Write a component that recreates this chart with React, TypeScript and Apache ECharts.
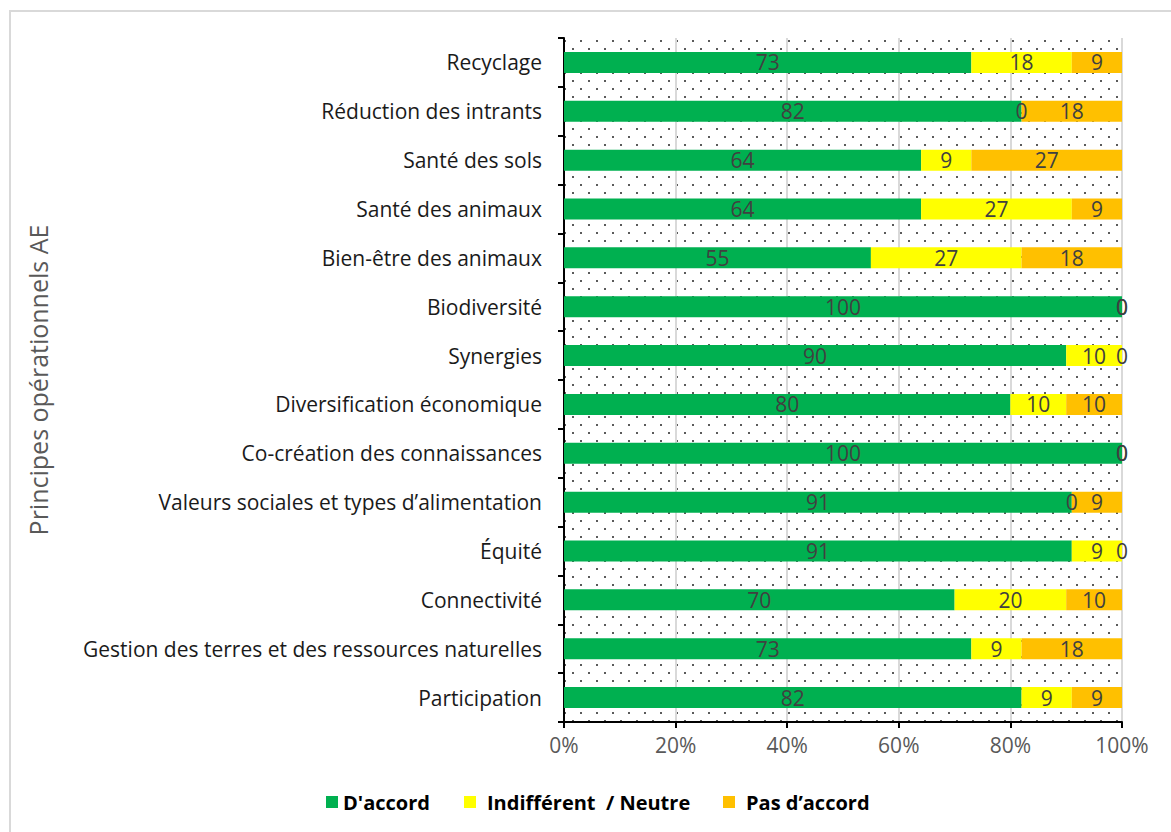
import React, { useEffect, useRef } from "react";
import * as echarts from "echarts";

const categories = [
  "Recyclage",
  "Réduction des intrants",
  "Santé des sols",
  "Santé des animaux",
  "Bien-être des animaux",
  "Biodiversité",
  "Synergies",
  "Diversification économique",
  "Co-création des connaissances",
  "Valeurs sociales et types d’alimentation",
  "Équité",
  "Connectivité",
  "Gestion des terres et des ressources naturelles",
  "Participation",
];

const accord = [73, 82, 64, 64, 55, 100, 90, 80, 100, 91, 91, 70, 73, 82];
const neutre = [18, 0, 9, 27, 27, 0, 10, 10, 0, 0, 9, 20, 9, 9];
const pasAccord = [9, 18, 27, 9, 18, 0, 0, 10, 0, 9, 0, 10, 18, 9];

const seriesNames = ["D'accord", "Indifférent  / Neutre", "Pas d’accord"];
const seriesColors = ["#00B050", "#FFFF00", "#FFC000"];
const xTicks = [0, 20, 40, 60, 80, 100];

const FONT = "'Open Sans', 'Noto Sans', sans-serif";

// small tile of staggered dots used to fill the plot background
function makeDotTile(): HTMLCanvasElement {
  const c = document.createElement("canvas");
  c.width = 16;
  c.height = 16;
  const ctx = c.getContext("2d")!;
  ctx.fillStyle = "#ffffff";
  ctx.fillRect(0, 0, 16, 16);
  ctx.fillStyle = "#5a5a5a";
  ctx.fillRect(4, 8, 2, 2);
  ctx.fillRect(12, 0, 2, 2);
  return c;
}

export default function App() {
  const ref = useRef<HTMLDivElement>(null);

  useEffect(() => {
    if (!ref.current) return;
    const chart = echarts.init(ref.current, undefined, { renderer: "svg" });
    const tile = makeDotTile();

    const values = [accord, neutre, pasAccord];
    const series = values.map((data, i) => ({
      name: seriesNames[i],
      type: "bar" as const,
      stack: "total",
      data,
      barWidth: "43%",
      itemStyle: { color: seriesColors[i] },
      label: {
        show: true,
        position: "inside" as const,
        color: "#404040",
        fontSize: 21,
        fontFamily: FONT,
        formatter: (p: any) => String(p.value),
      },
    }));

    // one legend block per series so each entry sits at its own spot
    const legendLefts = [326, 464, 723];
    const legendGaps = [5, 11, 11];
    const legend = seriesNames.map((name, i) => ({
      data: [name],
      left: legendLefts[i],
      top: 792,
      icon: "rect",
      itemWidth: 12,
      itemHeight: 12,
      itemGap: 6,
      padding: 0,
      textStyle: {
        fontFamily: FONT,
        fontWeight: "bold" as const,
        fontSize: 20,
        color: "#000000",
        padding: [0, 0, 0, legendGaps[i] - 5],
      },
    }));

    chart.setOption({
      animation: false,
      backgroundColor: "transparent",
      grid: {
        left: 564,
        right: 49,
        top: 38,
        bottom: 110,
        show: true,
        borderWidth: 0,
        backgroundColor: {
          image: tile,
          repeat: "repeat",
          imageWidth: 16,
          imageHeight: 16,
        } as any,
      },
      legend,
      xAxis: {
        type: "value",
        min: 0,
        max: 100,
        interval: 20,
        axisLine: { show: true, lineStyle: { color: "#000000", width: 2 } },
        axisTick: { show: true, length: 6, lineStyle: { color: "#000000", width: 2 } },
        splitLine: { show: true, lineStyle: { color: "#d9d9d9", width: 2 } },
        axisLabel: {
          color: "#595959",
          fontSize: 21,
          fontFamily: FONT,
          margin: 12,
          formatter: (v: number) => (xTicks.includes(v) ? `${v}%` : ""),
        },
      },
      yAxis: {
        type: "category",
        data: categories,
        inverse: true,
        name: "Principes opérationnels AE",
        nameLocation: "middle",
        nameGap: 514,
        nameTextStyle: { color: "#595959", fontSize: 25, fontFamily: FONT },
        axisLine: { show: true, lineStyle: { color: "#000000", width: 2 } },
        axisTick: { show: true, length: 6, lineStyle: { color: "#000000", width: 2 } },
        axisLabel: {
          color: "#1a1a1a",
          fontSize: 21,
          fontFamily: FONT,
          margin: 22,
        },
      },
      series,
    });

    return () => chart.dispose();
  }, []);

  return (
    <div style={{ position: "absolute", left: 0, top: 0, width: 1171, height: 832, background: "#ffffff", overflow: "hidden" }}>
      <div
        style={{
          position: "absolute",
          left: 9,
          top: 10,
          width: 1162,
          height: 822,
          boxSizing: "border-box",
          borderLeft: "2px solid #d9d9d9",
          borderTop: "2px solid #d9d9d9",
        }}
      />
      <div ref={ref} style={{ position: "absolute", left: 0, top: 0, width: 1171, height: 832 }} />
    </div>
  );
}
